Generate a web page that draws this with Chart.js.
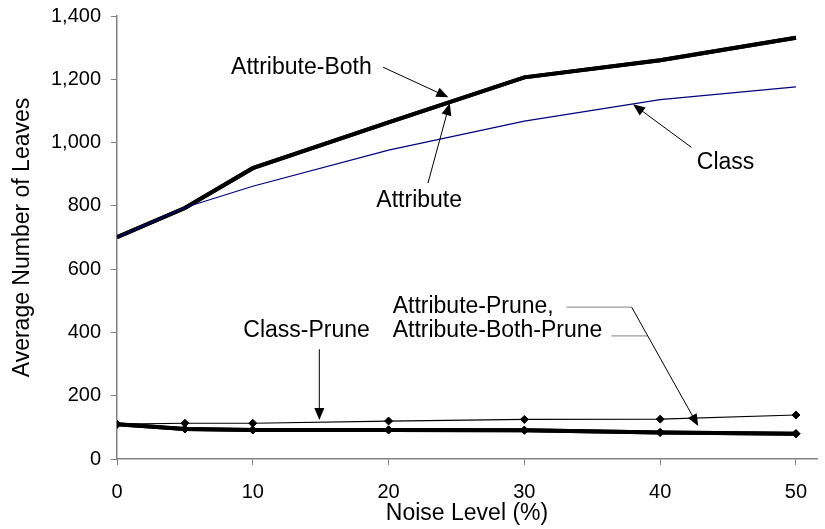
<!DOCTYPE html>
<html>
<head>
<meta charset="utf-8">
<script src="https://cdn.jsdelivr.net/npm/chart.js@4/dist/chart.umd.min.js"></script>
<style>
  html, body { margin: 0; padding: 0; background: #fff; }
  #wrap { width: 825px; height: 529px; }
</style>
</head>
<body>
<div id="wrap"><canvas id="chart" width="825" height="529"></canvas></div>
<script>
// noise levels (%) on the x axis
const noiseLevels = [0, 5, 10, 20, 30, 40, 50];
const xTicks = [0, 10, 20, 30, 40, 50];

// average number of leaves per method
const classLeaves = [701, 795, 862, 976, 1068, 1136, 1176];
const attributeLeaves = [701, 793, 919, 1064, 1206, 1260, 1331];
const attributeBothLeaves = [701, 793, 919, 1064, 1206, 1260, 1331];
const classPruneLeaves = [110, 113, 113, 120, 125, 126, 139];
const attributePruneLeaves = [110, 95, 92, 92, 91, 84, 80];
const attributeBothPruneLeaves = [110, 95, 92, 92, 91, 84, 80];

// callout labels, placed in data units
const labelFont = '23px "Liberation Sans", Arial, sans-serif';
const callouts = [
    { text: 'Attribute-Both', x: 8.4, y: 1238, arrow: [19.6, 1238, 24.4, 1143] },
    { text: 'Attribute', x: 19.1, y: 818, arrow: [22.9, 872, 24.5, 1124] },
    { text: 'Class', x: 42.7, y: 935, arrow: [42.3, 985, 38.0, 1121] },
    { text: 'Class-Prune', x: 9.3, y: 407, arrow: [14.9, 347, 14.9, 123] },
    { text: 'Attribute-Prune,', x: 20.3, y: 480 },
    { text: 'Attribute-Both-Prune', x: 20.3, y: 407 }
];
// leader lines for the two prune labels
const leaders = [
    { pts: [33.1, 480, 37.9, 480], color: '#808080' },
    { pts: [36.4, 389, 39.1, 389], color: '#808080' }
];
const pruneArrow = [37.9, 480, 42.8, 104];

const toPoints = (vals) => noiseLevels.map((x, i) => ({ x, y: vals[i] }));

function arrow(ctx, x1, y1, x2, y2) {
    const ang = Math.atan2(y2 - y1, x2 - x1);
    const len = 12, half = 5;
    ctx.beginPath();
    ctx.moveTo(x1, y1);
    ctx.lineTo(x2 - Math.cos(ang) * len * 0.8, y2 - Math.sin(ang) * len * 0.8);
    ctx.stroke();
    ctx.beginPath();
    ctx.moveTo(x2, y2);
    ctx.lineTo(x2 - Math.cos(ang) * len - Math.sin(ang) * half, y2 - Math.sin(ang) * len + Math.cos(ang) * half);
    ctx.lineTo(x2 - Math.cos(ang) * len + Math.sin(ang) * half, y2 - Math.sin(ang) * len - Math.cos(ang) * half);
    ctx.closePath();
    ctx.fill();
}

const calloutPlugin = {
    id: 'callouts',
    afterDraw(chart) {
        const { ctx, scales: { x, y } } = chart;
        const px = v => x.getPixelForValue(v);
        const py = v => y.getPixelForValue(v);
        ctx.save();
        ctx.font = labelFont;
        ctx.fillStyle = '#000';
        ctx.textAlign = 'left';
        ctx.textBaseline = 'middle';
        ctx.strokeStyle = '#000';
        ctx.lineWidth = 1;
        callouts.forEach(c => {
            ctx.fillText(c.text, px(c.x), py(c.y));
            if (c.arrow) {
                const [a, b, d, e] = c.arrow;
                arrow(ctx, px(a), py(b), px(d), py(e));
            }
        });
        leaders.forEach(l => {
            ctx.strokeStyle = l.color;
            ctx.beginPath();
            ctx.moveTo(px(l.pts[0]), py(l.pts[1]));
            ctx.lineTo(px(l.pts[2]), py(l.pts[3]));
            ctx.stroke();
        });
        ctx.strokeStyle = '#000';
        arrow(ctx, px(pruneArrow[0]), py(pruneArrow[1]), px(pruneArrow[2]), py(pruneArrow[3]));
        ctx.restore();
    }
};

const thin = (label, data, color, points) => ({
    label, data: toPoints(data), borderColor: color, backgroundColor: color,
    borderWidth: 1.2, pointRadius: points ? 4 : 0, pointBorderWidth: 1, pointStyle: 'rectRot', tension: 0
});
const thick = (label, data, points) => ({
    label, data: toPoints(data), borderColor: '#000', backgroundColor: '#000',
    borderWidth: 4, pointRadius: points ? 4 : 0, pointBorderWidth: 1, pointStyle: 'rectRot', tension: 0
});

new Chart(document.getElementById('chart'), {
    type: 'line',
    data: {
        datasets: [
            thin('Class', classLeaves, '#000080', false),
            thin('Class-Prune', classPruneLeaves, '#000', true),
            thick('Attribute', attributeLeaves, false),
            thick('Attribute-Both', attributeBothLeaves, false),
            thick('Attribute-Prune', attributePruneLeaves, true),
            thick('Attribute-Both-Prune', attributeBothPruneLeaves, true)
        ]
    },
    options: {
        responsive: false,
        animation: false,
        layout: { padding: { left: 0, right: 8, top: 10, bottom: 0 } },
        plugins: { legend: { display: false }, tooltip: { enabled: false } },
        scales: {
            x: {
                type: 'linear',
                min: 0,
                max: 51.55,
                afterBuildTicks: s => { s.ticks = xTicks.map(v => ({ value: v })); },
                afterFit: s => { s.height = 70; },
                grid: { drawOnChartArea: false, drawTicks: true, tickLength: 6, color: '#808080' },
                border: { color: '#808080', width: 1.5 },
                ticks: { color: '#000', padding: 15, maxRotation: 0, font: { family: '"Liberation Sans", Arial', size: 20 } },
                title: {
                    display: true, text: 'Noise Level (%)', color: '#000',
                    padding: { top: 0, bottom: 2 },
                    font: { family: '"Liberation Sans", Arial', size: 23 }
                }
            },
            y: {
                min: 0,
                max: 1400,
                ticks: {
                    stepSize: 200, color: '#000', padding: 10,
                    // short line height keeps the top label from pushing the plot down
                    font: { family: '"Liberation Sans", Arial', size: 20, lineHeight: 0.6 },
                    callback: v => v.toLocaleString('en-US')
                },
                afterFit: s => { s.width = 117; },
                grid: { drawOnChartArea: false, drawTicks: true, tickLength: 6, color: '#808080' },
                border: { color: '#808080', width: 1.5 },
                title: {
                    display: true, text: 'Average Number of Leaves', color: '#000',
                    padding: { top: 9, bottom: 0 },
                    font: { family: '"Liberation Sans", Arial', size: 23 }
                }
            }
        }
    },
    plugins: [calloutPlugin]
});
</script>
</body>
</html>
